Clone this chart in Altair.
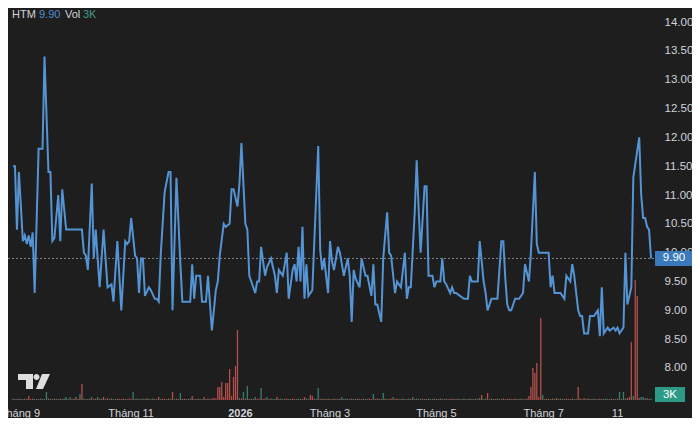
import altair as alt
import pandas as pd

# ---------------- data ----------------
ticker = "HTM"
last_price = 9.90
last_vol_label = "3K"

# trading-session index and close price of the line
sessions = [
    0, 1, 2, 3, 5, 6, 7, 8, 9, 10,
    11, 13, 15, 16, 18, 19, 20, 21, 23, 24,
    25, 27, 35, 36, 37, 38, 40, 41, 42, 44,
    46, 48, 50, 51, 53, 55, 57, 58, 59, 60,
    62, 63, 64, 65, 66, 67, 69, 70, 72, 73,
    74, 75, 77, 79, 80, 81, 83, 85, 86, 90,
    91, 92, 93, 95, 96, 98, 99, 101, 103, 104,
    105, 107, 108, 110, 111, 112, 114, 115, 116, 118,
    119, 120, 121, 123, 124, 125, 126, 128, 129, 131,
    133, 134, 135, 137, 138, 139, 140, 142, 143, 144,
    145, 146, 147, 148, 149, 150, 152, 155, 156, 157,
    158, 160, 161, 162, 163, 165, 166, 167, 168, 170,
    171, 172, 173, 174, 176, 177, 179, 180, 182, 183,
    184, 185, 187, 188, 190, 191, 192, 194, 195, 197,
    199, 200, 201, 202, 204, 205, 206, 207, 209, 210,
    211, 213, 214, 215, 217, 218, 219, 220, 222, 223,
    224, 225, 227, 229, 231, 232, 233, 236, 237, 239,
    240, 241, 243, 246, 248, 249, 250, 251, 252, 253,
    255, 257, 259, 260, 262, 263, 265, 266, 267, 272,
    273, 274, 275, 278, 280, 281, 283, 284, 285, 287,
    288, 289, 290, 292, 293, 295, 297, 298, 299, 300,
    302, 303, 305, 306, 307, 308, 310, 311, 312, 314,
    315, 318, 319, 320, 321, 322, 323, 324,
]
closes = [
    11.5, 11.5, 10.4, 11.4, 10.2, 10.3, 10.15, 10.3, 10.1, 10.35,
    9.3, 11.8, 11.8, 13.4, 11.4, 11.4, 10.2, 10.25, 11.0, 10.2,
    11.1, 10.4, 10.4, 10.0, 9.95, 9.7, 11.2, 9.9, 10.4, 9.4,
    10.4, 9.4, 9.45, 9.15, 10.2, 9.0, 10.2, 10.15, 10.2, 10.6,
    9.95, 9.9, 9.3, 9.9, 9.9, 9.25, 9.4, 9.35, 9.2, 9.2,
    9.15, 9.95, 11.05, 11.4, 11.4, 9.0, 11.3, 9.8, 9.15, 9.15,
    9.8, 9.2, 9.6, 9.6, 9.15, 9.15, 9.6, 8.65, 9.35, 9.5,
    9.95, 10.5, 10.45, 10.5, 11.1, 11.1, 10.8, 11.2, 11.9, 10.5,
    10.4, 9.6, 9.5, 9.3, 9.5, 9.5, 10.1, 9.6, 9.75, 9.9,
    9.6, 9.3, 9.7, 9.6, 9.8, 10.0, 9.2, 9.7, 9.8, 9.5,
    10.1, 9.5, 10.45, 9.2, 9.8, 9.25, 9.35, 11.85, 10.05, 9.7,
    9.9, 9.3, 10.2, 9.85, 9.7, 10.1, 10.0, 9.8, 9.6, 9.9,
    9.6, 8.8, 9.7, 9.55, 9.4, 9.9, 9.6, 9.6, 9.25, 9.8,
    9.1, 9.1, 8.8, 9.9, 10.7, 10.0, 9.95, 9.3, 9.5, 9.4,
    10.0, 9.2, 9.4, 9.4, 10.7, 11.6, 10.75, 10.0, 11.15, 11.15,
    9.6, 9.6, 9.4, 9.5, 9.5, 9.9, 9.5, 9.45, 9.3, 9.4,
    9.3, 9.3, 9.25, 9.2, 9.2, 9.6, 9.5, 9.5, 10.2, 9.5,
    9.3, 9.0, 9.2, 9.2, 10.2, 10.2, 9.55, 9.1, 9.0, 9.0,
    9.2, 9.2, 9.3, 9.8, 9.5, 10.0, 11.4, 10.15, 10.0, 10.0,
    9.4, 9.6, 9.3, 9.3, 9.2, 9.6, 9.5, 9.8, 9.6, 9.0,
    8.9, 8.9, 8.6, 8.6, 8.9, 8.9, 9.0, 8.55, 9.4, 8.6,
    8.7, 8.65, 8.7, 8.65, 8.7, 8.6, 8.7, 10.0, 9.1, 9.4,
    11.3, 12.0, 11.0, 10.6, 10.6, 10.45, 10.4, 9.9,
]

# volume per session (thousand shares), sessions 0..324
volumes = [
    3, 2, 2, 3, 2, 2, 3, 2, 8, 2, 3, 2, 2, 2, 3, 2, 2, 16, 3, 2, 2, 3, 2, 2, 3,
    2, 3, 6, 2, 6, 2, 3, 6, 2, 12, 32, 3, 2, 2, 3, 6, 2, 3, 6, 2, 3, 6, 2, 4, 2,
    3, 2, 2, 3, 2, 2, 3, 2, 2, 3, 2, 16, 2, 3, 2, 2, 3, 2, 4, 2, 2, 3, 2, 2, 6,
    2, 3, 2, 2, 3, 2, 16, 2, 3, 2, 14, 2, 3, 2, 2, 3, 8, 2, 2, 3, 2, 2, 6, 2, 3,
    2, 3, 4, 3, 26, 26, 36, 6, 34, 34, 62, 8, 46, 68, 140, 4, 3, 16, 3, 28, 2, 3, 2, 6, 2,
    3, 24, 2, 3, 6, 2, 3, 2, 2, 6, 2, 3, 2, 2, 3, 2, 2, 3, 2, 2, 3, 2, 2, 6, 3,
    2, 10, 8, 3, 2, 24, 2, 3, 2, 2, 3, 2, 2, 3, 2, 2, 3, 6, 2, 3, 2, 2, 3, 2, 2,
    3, 2, 2, 3, 2, 2, 3, 2, 12, 2, 3, 2, 2, 14, 3, 2, 2, 3, 6, 2, 3, 2, 2, 3, 2,
    2, 3, 2, 6, 2, 3, 2, 2, 3, 2, 2, 3, 2, 2, 3, 2, 2, 3, 2, 2, 3, 2, 2, 3, 2,
    2, 3, 2, 2, 3, 2, 2, 3, 2, 2, 3, 2, 4, 10, 2, 3, 14, 2, 3, 2, 2, 3, 2, 2, 3,
    2, 2, 3, 2, 2, 3, 2, 2, 3, 2, 2, 3, 8, 26, 64, 54, 74, 6, 164, 10, 2, 3, 2, 2, 3,
    2, 4, 2, 3, 2, 2, 3, 2, 2, 3, 2, 2, 26, 3, 2, 4, 2, 3, 2, 2, 3, 2, 2, 3, 2,
    2, 3, 2, 2, 3, 2, 2, 3, 16, 2, 16, 3, 4, 6, 116, 8, 240, 208, 4, 6, 6, 3, 4, 2, 3,
]
# u = up bar, d = down bar
vol_dir = (
    "uddud" "uuddd" "udduu" "duudu" "udduu"
    "duudu" "duddu" "dudud" "uddud" "ududu"
    "duudd" "uddud" "duduu" "dudud" "uduud"
    "uddud" "ududu" "uddud" "ududd" "uudud"
    "udddd" "ddddd" "ddddd" "ududu" "dudud"
    "duddu" "uduud" "duudd" "uddud" "uuddu"
    "uddud" "ududd" "uddud" "duudu" "dudud"
    "uddud" "uddud" "dudud" "uddud" "duudu"
    "dudud" "uddud" "duudu" "dudud" "uddud"
    "duudu" "dudud" "ududu" "ududu" "dudud"
    "uddud" "duudu" "udddd" "ddddu" "dudud"
    "dudud" "uddud" "uuddu" "dudud" "uddud"
    "duudu" "dudud" "ududd" "udddu" "ududu"
)

# x-axis labels
label_sessions = [3.5, 60, 115.5, 161, 215, 269.5, 307]
label_texts = ["Tháng 9", "Tháng 11", "2026", "Tháng 3", "Tháng 5", "Tháng 7", "11"]
label_bold = [False, False, True, False, False, False, False]

price_ticks = [8.0, 8.5, 9.0, 9.5, 10.0, 10.5, 11.0, 11.5, 12.0, 12.5, 13.0, 13.5, 14.0]

# ---------------- styling ----------------
FONT = "Liberation Sans"
BG = "#1e1e1e"
TXT = "#d1d4dc"
BLUE = "#5494d4"
BOXBLUE = "#3b79bd"
GREEN = "#3c8f7e"
RED = "#cf5852"
VOLBOX = "#2c9a84"

W, H = 650, 392
n_sessions = 325

price_df = pd.DataFrame({"s": sessions, "close": closes})
vol_df = pd.DataFrame({"s": list(range(len(volumes))), "vol": volumes, "dir": list(vol_dir)[: len(volumes)]})
lab_df = pd.DataFrame({"s": label_sessions, "t": label_texts, "b": label_bold})
last_df = pd.DataFrame({"close": [last_price], "t": [f"{last_price:.2f}"]})
lastvol_df = pd.DataFrame({"t": [last_vol_label]})

x_scale = alt.Scale(domain=[0, n_sessions], nice=False, zero=False)
xq = alt.X("s:Q", scale=x_scale, axis=None)
price_scale = alt.Scale(domain=[7.445, 14.243], nice=False, zero=False)
vol_scale = alt.Scale(domain=[0, 784], nice=False, zero=True)

price_axis = alt.Axis(
    orient="right", values=price_ticks, format=".2f", ticks=False, tickSize=0,
    domain=False, grid=False, labelPadding=6, labelColor=TXT, labelFontSize=11.5,
    labelFont=FONT, labelAlign="left", labelOverlap=False, labelFlush=False,
    labelBound=False, title=None,
)
y_price = alt.Y("close:Q", scale=price_scale, axis=price_axis)

rule = alt.Chart(last_df).mark_rule(color="#80848c", strokeDash=[2, 2], strokeWidth=1).encode(
    y=y_price
)
line = alt.Chart(price_df).mark_line(color=BLUE, strokeWidth=2, clip=True).encode(
    x=xq, y=y_price
)
BOX_PATH = "M-1,-0.395L1,-0.395L1,0.395L-1,0.395Z"
price_box = alt.Chart(last_df).mark_point(
    shape=BOX_PATH, filled=True, size=1444, color=BOXBLUE, opacity=1, strokeWidth=0
).encode(x=alt.value(666), y=y_price)
price_txt = alt.Chart(last_df).mark_text(
    color="#ffffff", fontSize=11.5, font=FONT, align="center", baseline="middle"
).encode(x=alt.value(666), y=y_price, text="t:N")

price_layer = alt.layer(rule, line, price_box, price_txt)

bars = alt.Chart(vol_df).mark_bar(width=1.3, clip=True, opacity=0.85).encode(
    x=xq,
    y=alt.Y("vol:Q", scale=vol_scale, axis=None),
    color=alt.Color("dir:N", scale=alt.Scale(domain=["u", "d"], range=[GREEN, RED]), legend=None),
)
VBOX_PATH = "M-1,-0.5L1,-0.5L1,0.5L-1,0.5Z"
vol_box = alt.Chart(lastvol_df).mark_point(
    shape=VBOX_PATH, filled=True, size=900, color=VOLBOX, opacity=1, strokeWidth=0
).encode(x=alt.value(662), y=alt.value(386.5))
vol_txt = alt.Chart(lastvol_df).mark_text(
    color="#ffffff", fontSize=11.5, font=FONT, align="center", baseline="middle"
).encode(x=alt.value(662), y=alt.value(386.5), text="t:N")

vol_layer = alt.layer(bars, vol_box, vol_txt)

labels_norm = alt.Chart(lab_df).transform_filter("!datum.b").mark_text(
    color=TXT, fontSize=11, font=FONT, align="center", baseline="alphabetic"
).encode(x=xq, y=alt.value(H + 17), text="t:N")
labels_bold = alt.Chart(lab_df).transform_filter("datum.b").mark_text(
    color=TXT, fontSize=11, font=FONT, fontWeight="bold", align="center", baseline="alphabetic"
).encode(x=xq, y=alt.value(H + 17), text="t:N")

title_df = pd.DataFrame({"a": [ticker], "b": [f"{last_price:.2f}"], "c": ["Vol"], "d": [last_vol_label]})
def title_piece(field, xpos, color):
    return alt.Chart(title_df).mark_text(
        color=color, fontSize=11, font=FONT, align="left", baseline="top"
    ).encode(x=alt.value(xpos), y=alt.value(1), text=f"{field}:N")

title = alt.layer(
    title_piece("a", 4, TXT),
    title_piece("b", 31, "#4f8fd0"),
    title_piece("c", 57, TXT),
    title_piece("d", 75, "#3f9a86"),
)

LOGO = (
    "M-1,-0.469L-0.0625,-0.469L-0.0625,0.469L-0.5,0.469L-0.5,-0.094L-1,-0.094Z"
    "M-0.031,-0.281a0.1875,0.1875 0 1,0 0.375,0a0.1875,0.1875 0 1,0 -0.375,0Z"
    "M0.5,-0.469L1,-0.469L0.5625,0.469L0.125,0.469Z"
)
logo = alt.Chart(title_df).mark_point(
    shape=LOGO, filled=True, size=1024, color="#dedede", opacity=1, strokeWidth=0
).encode(x=alt.value(26), y=alt.value(373.5))

chart = (
    alt.layer(vol_layer, price_layer, labels_norm, labels_bold, title, logo)
    .resolve_scale(y="independent")
    .properties(
        width=W, height=H,
        autosize=alt.AutoSizeParams(type="none"),
        padding={"left": 0, "top": 0, "right": 34, "bottom": 18},
    )
    .configure(background=BG)
    .configure_view(strokeWidth=0)
)

chart.save("out.html", embed_options={"renderer": "svg", "actions": False})
